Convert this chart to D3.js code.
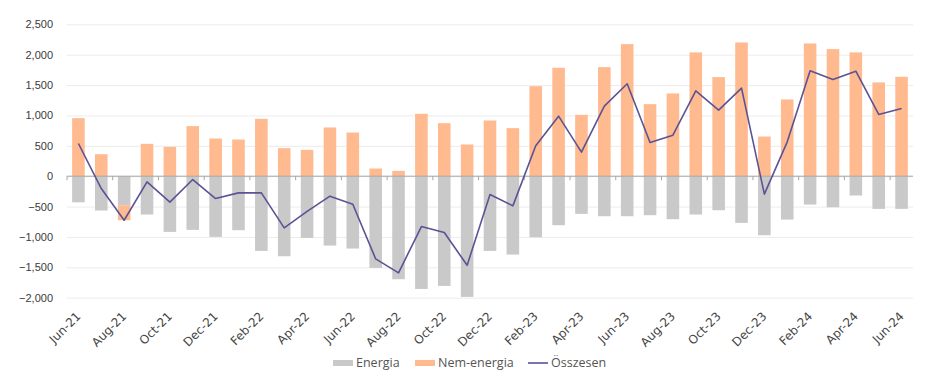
<!DOCTYPE html>
<html>
<head>
<meta charset="utf-8">
<script src="https://cdn.jsdelivr.net/npm/d3@7"></script>
<style>
  body { margin: 0; background: #fff; }
  svg { display: block; }
</style>
</head>
<body>
<script>
// monthly contributions, Jun-21 .. Jun-24
const months = [
  "Jun-21","Jul-21","Aug-21","Sep-21","Oct-21","Nov-21","Dec-21",
  "Jan-22","Feb-22","Mar-22","Apr-22","May-22","Jun-22","Jul-22","Aug-22","Sep-22","Oct-22","Nov-22","Dec-22",
  "Jan-23","Feb-23","Mar-23","Apr-23","May-23","Jun-23","Jul-23","Aug-23","Sep-23","Oct-23","Nov-23","Dec-23",
  "Jan-24","Feb-24","Mar-24","Apr-24","May-24","Jun-24"
];
const energia = [
  -430, -565, -478, -631, -917, -884, -999,
  -889, -1230, -1318, -1016, -1142, -1191, -1510, -1696, -1856, -1806, -1987, -1230,
  -1290, -1005, -807, -620, -659, -659, -642, -708, -631, -560, -769, -972,
  -714, -467, -511, -318, -538, -538
];
const nemEnergia = [
  955, 362, -247, 533, 483, 824, 620,
  604, 944, 461, 434, 802, 719, 126, 88, 1027, 873, 522, 917,
  791, 1482, 1784, 1010, 1795, 2174, 1186, 1362, 2037, 1631, 2201, 653,
  1263, 2185, 2092, 2037, 1543, 1636
];
const osszesen = [
  538, -203, -725, -93, -428, -55, -368,
  -275, -275, -851, -580, -329, -461, -1362, -1592, -829, -928, -1466, -302,
  -489, 500, 988, 395, 1153, 1521, 554, 675, 1405, 1087, 1449, -296,
  565, 1735, 1592, 1729, 1016, 1114
];
const yTicks = [-2000, -1500, -1000, -500, 0, 500, 1000, 1500, 2000, 2500];
const seriesNames = ["Energia", "Nem-energia", "Összesen"];
const colors = ["#c9c9c9", "#ffba90", "#5a5394"];

const width = 946, height = 388;
const margin = {top: 24, right: 33, bottom: 90, left: 67};

const svg = d3.select("body").append("svg")
    .attr("width", width)
    .attr("height", height)
    .style("font-family", "'DejaVu Sans', sans-serif");

const x = d3.scaleBand()
    .domain(months)
    .range([margin.left, width - margin.right])
    .paddingInner(0.45)
    .paddingOuter(0.225);

const y = d3.scaleLinear()
    .domain([-2000, 2500])
    .range([297.7, 24.3]);

// gridlines + y labels
const yAxis = svg.append("g")
    .attr("transform", `translate(${margin.left},0)`)
    .call(d3.axisLeft(y).tickValues(yTicks).tickFormat(d3.format(",")).tickSize(-(width - margin.left - margin.right)).tickPadding(14));
yAxis.select(".domain").remove();
yAxis.selectAll(".tick line").attr("stroke", "#ececec");
yAxis.selectAll(".tick text").attr("fill", "#3a3a3a").style("font-size", "11px");

// stacked bars
const rows = months.map((m, i) => ({month: m, Energia: energia[i], "Nem-energia": nemEnergia[i]}));
const stack = d3.stack()
    .keys(["Energia", "Nem-energia"])
    .offset(d3.stackOffsetDiverging)(rows);

svg.append("g")
  .selectAll("g")
  .data(stack)
  .join("g")
    .attr("fill", (d, i) => colors[i])
  .selectAll("rect")
  .data(d => d)
  .join("rect")
    .attr("x", d => x(d.data.month))
    .attr("width", x.bandwidth())
    .attr("y", d => y(Math.max(d[0], d[1])))
    .attr("height", d => Math.abs(y(d[0]) - y(d[1])));

// zero line with ticks at every other category boundary
const step = x.step();
svg.append("line")
    .attr("x1", margin.left).attr("x2", width - margin.right)
    .attr("y1", y(0)).attr("y2", y(0))
    .attr("stroke", "#a6a6a6");
svg.append("g")
  .selectAll("line")
  .data(months.filter((m, i) => i % 2 === 0))
  .join("line")
    .attr("x1", (d, i) => margin.left + i * 2 * step)
    .attr("x2", (d, i) => margin.left + i * 2 * step)
    .attr("y1", y(0)).attr("y2", y(0) + 4)
    .attr("stroke", "#a6a6a6");

// total line
svg.append("path")
    .datum(osszesen)
    .attr("fill", "none")
    .attr("stroke", colors[2])
    .attr("stroke-width", 1.6)
    .attr("stroke-linejoin", "round")
    .attr("d", d3.line().x((d, i) => x(months[i]) + x.bandwidth() / 2).y(d => y(d)));

// x labels
svg.append("g")
  .selectAll("text")
  .data(months.filter((m, i) => i % 2 === 0))
  .join("text")
    .attr("transform", d => `translate(${x(d) + x.bandwidth() / 2 + 3},317) rotate(-45)`)
    .attr("text-anchor", "end")
    .attr("fill", "#444")
    .style("font-size", "12px")
    .text(d => d);

// legend
const legend = svg.append("g").style("font-family", "'Open Sans', sans-serif").style("font-size", "12.5px");
const legendX = [333, 415, 528];
seriesNames.forEach((name, i) => {
  const g = legend.append("g").attr("transform", `translate(${legendX[i]},363)`);
  if (i < 2) {
    g.append("rect").attr("x", 0).attr("y", -3).attr("width", 20).attr("height", 6).attr("fill", colors[i]);
  } else {
    g.append("line").attr("x1", 0).attr("x2", 20).attr("y1", 0).attr("y2", 0)
      .attr("stroke", colors[i]).attr("stroke-width", 1.6);
  }
  g.append("text").attr("x", 23).attr("dy", "0.35em").attr("fill", "#555").text(name);
});
</script>
</body>
</html>
